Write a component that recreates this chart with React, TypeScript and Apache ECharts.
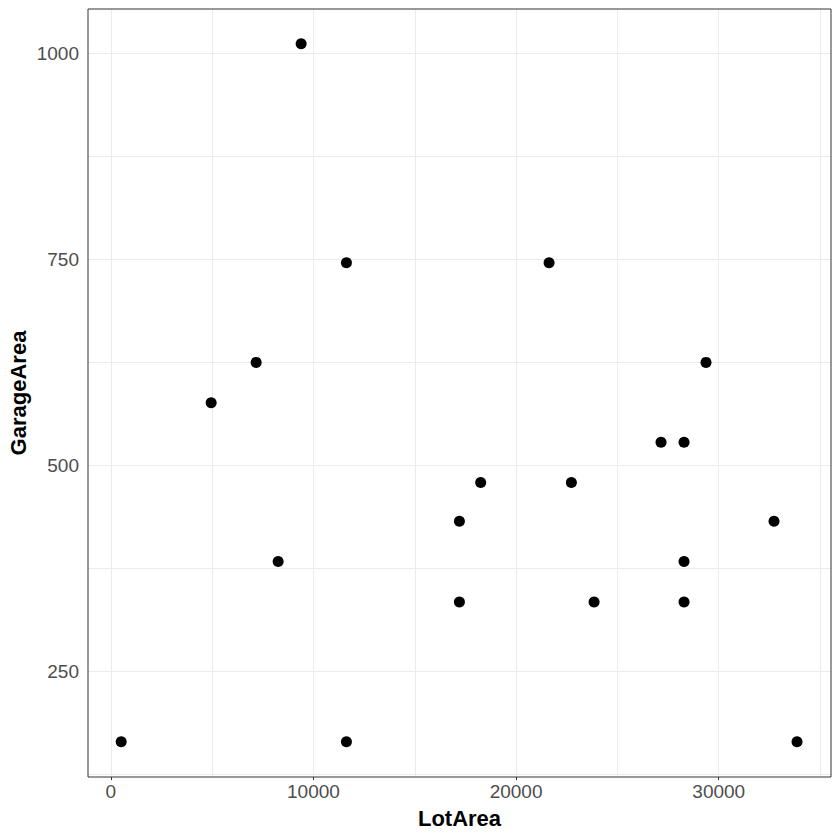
import React, { useEffect, useRef } from "react";
import * as echarts from "echarts";

const lotArea = [9393, 11628, 21628, 7173, 29373, 4953, 27153, 28288, 18253, 22728, 17203, 32728, 8258, 28288, 17203, 23848, 28288, 513, 11628, 33863];
const garageArea = [1012, 746, 746, 625, 625, 576, 528, 528, 479, 479, 432, 432, 383, 383, 334, 334, 334, 164, 164, 164];

const xTickLabels = [0, 10000, 20000, 30000];
const yTickLabels = [250, 500, 750, 1000];
const xGridValues = [0, 5000, 10000, 15000, 20000, 25000, 30000, 35000];
const yGridValues = [125, 250, 375, 500, 625, 750, 875, 1000];

const xRange = [-1125, 35540];
const yRange = [121.3, 1054.3];

export default function App() {
  const ref = useRef<HTMLDivElement>(null);
  useEffect(() => {
    if (!ref.current) return;
    const chart = echarts.init(ref.current, null, { renderer: "svg" });
    const font = "'Liberation Sans', Arial, sans-serif";
    const points = lotArea.map((x, i) => [x, garageArea[i]]);
    const gridLines = [
      ...xGridValues.map((v) => ({ xAxis: v })),
      ...yGridValues.map((v) => ({ yAxis: v })),
    ];
    chart.setOption({
      animation: false,
      backgroundColor: "#ffffff",
      grid: {
        left: 88,
        top: 9,
        right: 9,
        bottom: 63,
        containLabel: false,
        outerBoundsMode: "none",
        show: true,
        borderColor: "#333333",
        borderWidth: 1,
        backgroundColor: "transparent",
        z: 10,
      },
      xAxis: {
        type: "value",
        min: xRange[0],
        max: xRange[1],
        name: "LotArea",
        nameLocation: "middle",
        nameGap: 30,
        nameMoveOverlap: false,
        nameTextStyle: { fontFamily: font, fontSize: 22, fontWeight: "bold", color: "#000000" },
        axisLine: { show: false },
        axisTick: { show: true, length: 3, customValues: xTickLabels, lineStyle: { color: "#333333" } },
        axisLabel: {
          customValues: xTickLabels,
          margin: 5,
          fontFamily: font,
          fontSize: 19,
          color: "#4D4D4D",
          formatter: (v: number) => String(v),
        },
        splitLine: { show: false },
      },
      yAxis: {
        type: "value",
        min: yRange[0],
        max: yRange[1],
        name: "GarageArea",
        nameLocation: "middle",
        nameGap: 59,
        nameMoveOverlap: false,
        nameRotate: 90,
        nameTextStyle: { fontFamily: font, fontSize: 22, fontWeight: "bold", color: "#000000" },
        axisLine: { show: false },
        axisTick: { show: true, length: 3, customValues: yTickLabels, lineStyle: { color: "#333333" } },
        axisLabel: {
          customValues: yTickLabels,
          margin: 9,
          fontFamily: font,
          fontSize: 19,
          color: "#4D4D4D",
          formatter: (v: number) => String(v),
        },
        splitLine: { show: false },
      },
      series: [
        {
          type: "scatter",
          data: [],
          z: 1,
          silent: true,
          markLine: {
            silent: true,
            symbol: ["none", "none"],
            label: { show: false },
            lineStyle: { color: "#EBEBEB", width: 1, type: "solid" },
            emphasis: { disabled: true },
            animation: false,
            data: gridLines,
          },
        },
        {
          type: "scatter",
          z: 5,
          data: points,
          symbol: "circle",
          symbolSize: 11,
          itemStyle: { color: "#000000", opacity: 1 },
        },
      ],
    });
    return () => chart.dispose();
  }, []);
  return (
    <div
      ref={ref}
      style={{ position: "fixed", left: 0, top: 0, width: 840, height: 840, background: "#ffffff" }}
    />
  );
}
